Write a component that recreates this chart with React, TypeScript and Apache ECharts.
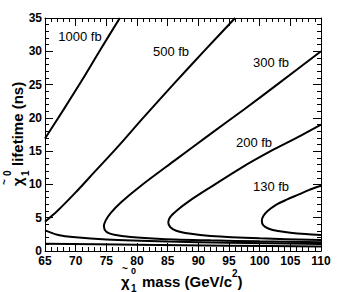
import React, { useEffect, useRef } from "react";
import * as echarts from "echarts";

// Axis ranges (mass in GeV/c^2, lifetime in ns)
const massMin = 65;
const massMax = 110;
const massStep = 5;
const lifetimeMin = 0;
const lifetimeMax = 35;
const lifetimeStep = 5;

// Contour levels (fb)
const levels = ["1000 fb", "500 fb", "300 fb", "200 fb", "130 fb"];

// Contour lines: [mass, lifetime]
const c1000Upper: number[][] = [[65, 16.9], [68, 21.2], [71, 25.6], [74, 30.2], [77.2, 35]];
const c1000Lower: number[][] = [[65, 1.1], [80, 0.95], [95, 0.8], [110, 0.68]];
const c500Upper: number[][] = [
  [65, 4.4], [67, 6.0], [70, 8.8], [73, 11.8], [77, 15.8], [81, 20.0], [86, 25.1], [91, 30.1], [96, 35],
];
const c500Lower: number[][] = [
  [65, 3.1], [67, 2.45], [70, 2.05], [75, 1.72], [85, 1.42], [95, 1.25], [110, 1.05],
];
const c300: number[][] = [
  [110, 30], [103, 25.1], [97.5, 21.3], [92, 17.6], [86, 13.5], [80.5, 9.7], [77.5, 7.4], [75.7, 5.7],
  [74.9, 4.6], [74.6, 3.7], [75.0, 2.9], [76.3, 2.45], [79, 2.1], [84, 1.82], [92, 1.6], [100, 1.45], [110, 1.32],
];
const c200: number[][] = [
  [110, 19], [106, 17], [102, 15.1], [97, 12.5], [92, 9.6], [88.5, 7.5], [86.5, 6.1], [85.4, 5.1],
  [85.1, 4.3], [85.4, 3.6], [86.4, 3.05], [88.5, 2.62], [92, 2.25], [100, 1.9], [110, 1.65],
];
const c130: number[][] = [
  [110, 9.8], [108, 9.15], [106.4, 8.5], [104.5, 7.75], [102.6, 6.9], [101.3, 6.0], [100.6, 5.25],
  [100.35, 4.55], [100.6, 3.85], [101.5, 3.35], [103, 3.0], [105, 2.75], [107.5, 2.55], [110, 2.42],
];

const curves: { name: string; data: number[][] }[] = [
  { name: "1000 fb", data: c1000Upper },
  { name: "1000 fb low", data: c1000Lower },
  { name: "500 fb", data: c500Upper },
  { name: "500 fb low", data: c500Lower },
  { name: "300 fb", data: c300 },
  { name: "200 fb", data: c200 },
  { name: "130 fb", data: c130 },
];

// label centers (pixels)
const labelPos: number[][] = [[80, 36], [171, 51], [271, 62], [254, 142], [271, 186]];

const FONT = "'Liberation Sans', Arial, Helvetica, sans-serif";

export default function App() {
  const ref = useRef<HTMLDivElement>(null);
  useEffect(() => {
    if (!ref.current) return;
    const chart = echarts.init(ref.current, undefined, { renderer: "svg" });
    const axisCommon = {
      type: "value" as const,
      axisLine: { show: true, onZero: false, lineStyle: { color: "#000", width: 1 } },
      axisTick: { show: true, inside: true, length: 8, lineStyle: { color: "#000", width: 1 } },
      minorTick: { show: true, splitNumber: 5, length: 4, lineStyle: { color: "#000", width: 1 } },
      splitLine: { show: false },
      minorSplitLine: { show: false },
    };
    const xBase = { ...axisCommon, min: massMin, max: massMax, interval: massStep };
    const yBase = { ...axisCommon, min: lifetimeMin, max: lifetimeMax, interval: lifetimeStep };
    const labelStyle = { color: "#000", fontFamily: FONT, fontWeight: "bold" as const, fontSize: 12 };

    const titleFont = (size: number) => `bold ${size}px ${FONT}`;

    chart.setOption({
      animation: false,
      backgroundColor: "#fff",
      grid: { left: 45, top: 18, right: 26, bottom: 41, containLabel: false },
      xAxis: [
        { ...xBase, position: "bottom", axisLabel: { ...labelStyle, margin: 4 } },
        { ...xBase, position: "top", axisLabel: { show: false } },
      ],
      yAxis: [
        { ...yBase, position: "left", axisLabel: { ...labelStyle, margin: 3 } },
        { ...yBase, position: "right", axisLabel: { show: false } },
      ],
      series: curves.map((c) => ({
        type: "line",
        name: c.name,
        xAxisIndex: 0,
        yAxisIndex: 0,
        data: c.data,
        showSymbol: false,
        symbol: "none",
        smooth: 0.3,
        clip: true,
        lineStyle: { color: "#000", width: 2 },
      })),
      graphic: [
        ...levels.map((t, i) => ({
          type: "text",
          x: labelPos[i][0],
          y: labelPos[i][1],
          style: {
            text: t,
            font: `13px ${FONT}`,
            fill: "#000",
            textAlign: "center",
            textVerticalAlign: "middle",
          },
        })),
        // x axis title
        {
          type: "group",
          children: [
            { type: "text", x: 121, y: 281, style: { text: "χ", font: titleFont(15), fill: "#000", textVerticalAlign: "middle" } },
            { type: "text", x: 122, y: 268, style: { text: "~", font: titleFont(10), fill: "#000", textVerticalAlign: "middle" } },
            { type: "text", x: 131, y: 271, style: { text: "0", font: titleFont(9), fill: "#000", textVerticalAlign: "middle" } },
            { type: "text", x: 131, y: 288, style: { text: "1", font: titleFont(10), fill: "#000", textVerticalAlign: "middle" } },
            { type: "text", x: 142, y: 281, style: { text: "mass (GeV/c", font: titleFont(15), fill: "#000", textVerticalAlign: "middle" } },
            { type: "text", x: 232, y: 273, style: { text: "2", font: titleFont(10), fill: "#000", textVerticalAlign: "middle" } },
            { type: "text", x: 237.5, y: 281, style: { text: ")", font: titleFont(15), fill: "#000", textVerticalAlign: "middle" } },
          ],
        },
        // y axis title (rotated)
        {
          type: "group",
          x: 17,
          y: 186,
          rotation: Math.PI / 2,
          children: [
            { type: "text", x: 0, y: 0, style: { text: "χ", font: titleFont(15), fill: "#000", textVerticalAlign: "middle" } },
            { type: "text", x: 1, y: -13, style: { text: "~", font: titleFont(10), fill: "#000", textVerticalAlign: "middle" } },
            { type: "text", x: 10, y: -10, style: { text: "0", font: titleFont(10), fill: "#000", textVerticalAlign: "middle" } },
            { type: "text", x: 10, y: 8, style: { text: "1", font: titleFont(10), fill: "#000", textVerticalAlign: "middle" } },
            { type: "text", x: 20, y: 0, style: { text: "lifetime (ns)", font: titleFont(15), fill: "#000", textVerticalAlign: "middle" } },
          ],
        },
      ],
    });
    return () => chart.dispose();
  }, []);
  return (
    <div
      ref={ref}
      style={{ position: "fixed", left: 0, top: 0, width: 347, height: 292, background: "#fff" }}
    />
  );
}
